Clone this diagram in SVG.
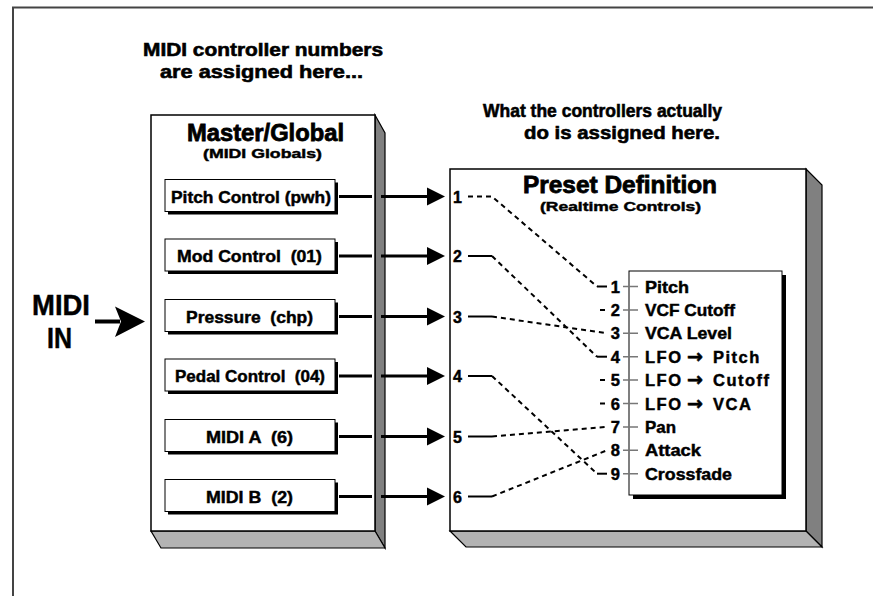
<svg xmlns="http://www.w3.org/2000/svg" width="873" height="596" viewBox="0 0 873 596">
<style>
text{font-family:"Liberation Sans",Arial,sans-serif;font-weight:bold;fill:#000;stroke:#000;stroke-width:0.45}
.h{font-size:19px;stroke-width:0.6}
.t{font-size:24px;stroke-width:0.8}
.s{font-size:13.5px}
.b{font-size:16.5px}
.n{font-size:16px}
.l{font-size:16.5px}
.ar{font-family:"DejaVu Sans",sans-serif;font-size:19px;letter-spacing:0;stroke-width:0.6}
.face{fill:#fff;stroke:#000;stroke-width:1.5}
.side{fill:#808080;stroke:#000;stroke-width:1.2}
.bot{fill:#b3b3b3;stroke:#000;stroke-width:1.2}
.ib{fill:#fff;stroke:#000;stroke-width:1}
.sh{fill:#000}
.thick{stroke:#000;stroke-width:3;fill:none}
.sol{stroke:#000;stroke-width:2;fill:none}
.dash{stroke:#000;stroke-width:2;fill:none;stroke-dasharray:5 4}
.tick{stroke:#777;stroke-width:1.5;fill:none}
</style>

<g id="frame">
<path d="M13,596 V7.5 H873" fill="none" stroke="#444" stroke-width="2"/>
</g>

<g id="captions">
<text class="h" x="143" y="55.5" textLength="240" lengthAdjust="spacingAndGlyphs">MIDI controller numbers</text>
<text class="h" x="160" y="78" textLength="203" lengthAdjust="spacingAndGlyphs">are assigned here...</text>
<text class="h" x="483" y="116.5" textLength="239" lengthAdjust="spacingAndGlyphs">What the controllers actually</text>
<text class="h" x="524" y="139" textLength="196" lengthAdjust="spacingAndGlyphs">do is assigned here.</text>
</g>

<g id="midi-in">
<text x="32" y="315" font-size="29" stroke-width="0.8" textLength="58" lengthAdjust="spacingAndGlyphs">MIDI</text>
<text x="47" y="348" font-size="29" stroke-width="0.8" textLength="25" lengthAdjust="spacingAndGlyphs">IN</text>
</g>

<g id="master-global">
<polygon class="side" points="375,115 385,133 385,548 375,531"/>
<polygon class="bot" points="151,531 375,531 385,548 161,548"/>
<rect class="face" x="151" y="115" width="224" height="416"/>
<text class="t" x="187" y="140.5" textLength="157" lengthAdjust="spacingAndGlyphs">Master/Global</text>
<text class="s" x="203" y="157.5" textLength="119" lengthAdjust="spacingAndGlyphs">(MIDI Globals)</text>
</g>

<g id="box-pitch">
<rect class="sh" x="168" y="182.5" width="170" height="32"/>
<rect class="ib" x="165" y="179.5" width="170" height="32"/>
<text class="b" x="171" y="202.5" textLength="160" lengthAdjust="spacingAndGlyphs" xml:space="preserve">Pitch Control (pwh)</text>
</g>
<g id="box-mod">
<rect class="sh" x="168" y="242" width="170" height="32"/>
<rect class="ib" x="165" y="239" width="170" height="32"/>
<text class="b" x="177" y="262" textLength="145" lengthAdjust="spacingAndGlyphs" xml:space="preserve">Mod Control  (01)</text>
</g>
<g id="box-pressure">
<rect class="sh" x="168" y="302.5" width="170" height="32"/>
<rect class="ib" x="165" y="299.5" width="170" height="32"/>
<text class="b" x="186" y="322.5" textLength="127" lengthAdjust="spacingAndGlyphs" xml:space="preserve">Pressure  (chp)</text>
</g>
<g id="box-pedal">
<rect class="sh" x="168" y="362" width="170" height="32"/>
<rect class="ib" x="165" y="359" width="170" height="32"/>
<text class="b" x="175" y="382" textLength="150" lengthAdjust="spacingAndGlyphs" xml:space="preserve">Pedal Control  (04)</text>
</g>
<g id="box-midia">
<rect class="sh" x="168" y="422.5" width="170" height="32"/>
<rect class="ib" x="165" y="419.5" width="170" height="32"/>
<text class="b" x="206" y="442.5" textLength="87" lengthAdjust="spacingAndGlyphs" xml:space="preserve">MIDI A  (6)</text>
</g>
<g id="box-midib">
<rect class="sh" x="168" y="482.5" width="170" height="32"/>
<rect class="ib" x="165" y="479.5" width="170" height="32"/>
<text class="b" x="206" y="502.5" textLength="87" lengthAdjust="spacingAndGlyphs" xml:space="preserve">MIDI B  (2)</text>
</g>

<g id="preset-definition">
<polygon class="side" points="806,169 822,185 822,547 806,531"/>
<polygon class="bot" points="450,531 806,531 822,547 466,547"/>
<rect class="face" x="450" y="169" width="356" height="362"/>
<text class="t" x="523" y="192.5" textLength="194" lengthAdjust="spacingAndGlyphs">Preset Definition</text>
<text class="s" x="540" y="211" textLength="161" lengthAdjust="spacingAndGlyphs">(Realtime Controls)</text>
<g class="n">
<text x="453" y="202.5">1</text>
<text x="453" y="262">2</text>
<text x="453" y="322.5">3</text>
<text x="453" y="382">4</text>
<text x="453" y="442.5">5</text>
<text x="453" y="502.5">6</text>
</g>
</g>

<g id="realtime-list">
<rect class="sh" x="633" y="275" width="153" height="224"/>
<rect class="ib" x="629" y="271" width="153" height="224"/>
<g class="tick">
<path d="M623,286.5H638M623,309.9H638M623,333.3H638M623,356.7H638M623,380.1H638M623,403.5H638M623,426.9H638M623,450.3H638M623,473.7H638"/>
</g>
<g class="l" text-anchor="end">
<text x="620" y="292.5">1</text>
<text x="620" y="315.9">2</text>
<text x="620" y="339.3">3</text>
<text x="620" y="362.7">4</text>
<text x="620" y="386.1">5</text>
<text x="620" y="409.5">6</text>
<text x="620" y="432.9">7</text>
<text x="620" y="456.3">8</text>
<text x="620" y="479.7">9</text>
</g>
<g class="l">
<text x="645" y="292.5" textLength="44" lengthAdjust="spacingAndGlyphs">Pitch</text>
<text x="645" y="315.9" textLength="90" lengthAdjust="spacingAndGlyphs">VCF Cutoff</text>
<text x="645" y="339.3" textLength="87" lengthAdjust="spacingAndGlyphs">VCA Level</text>
<text y="362.7" letter-spacing="1.5"><tspan x="645">LFO</tspan> <tspan class="ar" x="687">→</tspan> <tspan x="713">Pitch</tspan></text>
<text y="386.1" letter-spacing="1.5"><tspan x="645">LFO</tspan> <tspan class="ar" x="687">→</tspan> <tspan x="713">Cutoff</tspan></text>
<text y="409.5" letter-spacing="1.5"><tspan x="645">LFO</tspan> <tspan class="ar" x="687">→</tspan> <tspan x="713">VCA</tspan></text>
<text x="645" y="432.9" textLength="31" lengthAdjust="spacingAndGlyphs">Pan</text>
<text x="645" y="456.3" textLength="56" lengthAdjust="spacingAndGlyphs">Attack</text>
<text x="645" y="479.7" textLength="87" lengthAdjust="spacingAndGlyphs">Crossfade</text>
</g>
</g>

<g id="connectors">
<path d="M95,321.5H120" stroke="#000" stroke-width="4" fill="none"/>
<polygon points="115,306.5 145,321.5 115,337 121,321.5" fill="#000"/>
<g class="thick">
<path d="M339,196.5H372M381,196.5H430"/>
<path d="M339,256H372M381,256H430"/>
<path d="M339,316.5H372M381,316.5H430"/>
<path d="M339,376H372M381,376H430"/>
<path d="M339,436.5H372M381,436.5H430"/>
<path d="M339,496.5H372M381,496.5H430"/>
</g>
<g fill="#000">
<polygon points="427,187.5 445,196.5 427,205.5"/>
<polygon points="427,247 445,256 427,265"/>
<polygon points="427,307.5 445,316.5 427,325.5"/>
<polygon points="427,367 445,376 427,385"/>
<polygon points="427,427.5 445,436.5 427,445.5"/>
<polygon points="427,487.5 445,496.5 427,505.5"/>
</g>
<path class="dash" d="M468,196.5H492L597,286.5"/>
<path class="sol" d="M597,286.5H607"/>
<path class="sol" d="M468,256H492"/>
<path class="dash" d="M492,256L597,356.7"/>
<path class="sol" d="M597,356.7H607"/>
<path class="sol" d="M468,316.5H492"/>
<path class="dash" d="M492,316.5L607,333.3"/>
<path class="sol" d="M468,376H492"/>
<path class="dash" d="M492,376L597,473.7"/>
<path class="sol" d="M597,473.7H607"/>
<path class="sol" d="M468,436.5H492"/>
<path class="dash" d="M492,436.5L607,426.9"/>
<path class="sol" d="M468,496.5H492"/>
<path class="dash" d="M492,496.5L607,450.3"/>
<path class="sol" d="M600,309.9H605M600,380.1H605M600,403.5H605"/>
</g>
</svg>
